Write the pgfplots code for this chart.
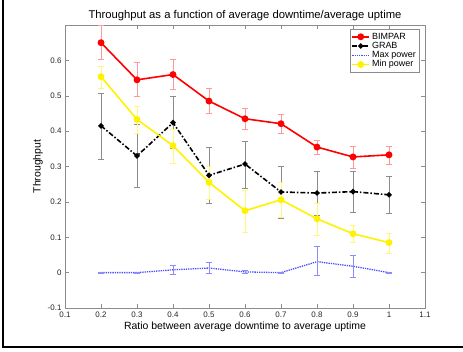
\documentclass[border=0pt]{standalone}
\usepackage{pgfplots}
\pgfplotsset{compat=1.18}
\usepackage{fontspec}
\setmainfont{Liberation Sans}
\definecolor{mlgray}{RGB}{140,140,140}
\begin{document}
\begin{tikzpicture}[x=1bp,y=1bp]
\useasboundingbox (0,0) rectangle (463,-351);
\draw[line width=1.3bp] (3,0) -- (3,-347) -- (463,-347);
\begin{axis}[
  at={(65bp,-308bp)}, anchor=south west,
  scale only axis, width=360bp, height=283bp,
  xmin=0.1, xmax=1.1, ymin=-0.1, ymax=0.7,
  xtick={0.1,0.2,...,1.1}, ytick={-0.1,0,0.1,...,0.7},
  xticklabels={0.1,0.2,0.3,0.4,0.5,0.6,0.7,0.8,0.9,1,1.1},
  yticklabels={-0.1,0,0.1,0.2,0.3,0.4,0.5,0.6,0.7},
  axis line style={mlgray, line width=0.5bp},
  tick style={mlgray, line width=0.5bp},
  tick align=inside, major tick length=4bp,
  ticklabel style={font=\fontsize{8}{9}\selectfont, text=black!85},
  /pgf/number format/assume math mode=true,
  title={Throughput as a function of average downtime/average uptime},
  title style={font=\fontsize{11.3}{13}\selectfont, yshift=-5bp},
  xlabel={Ratio between average downtime to average uptime},
  ylabel={Throughput},
  label style={font=\fontsize{10.5}{12}\selectfont},
  xlabel style={yshift=2bp},
  ylabel style={yshift=-2bp},
  legend style={at={(0.985,0.985)}, anchor=north east, draw=mlgray,
    font=\fontsize{9}{10}\selectfont, row sep=-2.5bp, inner sep=1.5bp,
    cells={anchor=west}},
]
% BIMPAR
\addplot[red, line width=1.6bp, mark=*, mark size=2.6bp,
  error bars/.cd, y dir=both, y explicit,
  error bar style={red!40, line width=0.7bp},
  error mark options={rotate=90, mark size=3bp, red!40, line width=0.7bp}]
 coordinates {
 (0.2,0.650) += (0,0.050) -= (0,0.048)
 (0.3,0.545) += (0,0.050) -= (0,0.048)
 (0.4,0.560) += (0,0.043) -= (0,0.043)
 (0.5,0.485) += (0,0.035) -= (0,0.035)
 (0.6,0.435) += (0,0.029) -= (0,0.030)
 (0.7,0.421) += (0,0.027) -= (0,0.026)
 (0.8,0.355) += (0,0.019) -= (0,0.020)
 (0.9,0.327) += (0,0.030) -= (0,0.032)
 (1.0,0.333) += (0,0.024) -= (0,0.026)
 };
\addlegendentry{BIMPAR}
% GRAB
\addplot[black, line width=1.6bp, dash pattern=on 5bp off 2bp on 1.5bp off 2bp, mark=*, mark size=1.8bp,
  mark options={solid},
  error bars/.cd, y dir=both, y explicit,
  error bar style={mlgray, line width=0.7bp, solid},
  error mark options={rotate=90, mark size=3bp, mlgray, line width=0.7bp, solid}]
 coordinates {
 (0.2,0.415) += (0,0.093) -= (0,0.094)
 (0.3,0.330) += (0,0.090) -= (0,0.088)
 (0.4,0.424) += (0,0.073) -= (0,0.073)
 (0.5,0.275) += (0,0.078) -= (0,0.079)
 (0.6,0.307) += (0,0.065) -= (0,0.070)
 (0.7,0.228) += (0,0.072) -= (0,0.074)
 (0.8,0.225) += (0,0.062) -= (0,0.064)
 (0.9,0.229) += (0,0.058) -= (0,0.058)
 (1.0,0.220) += (0,0.053) -= (0,0.052)
 };
\addlegendentry{GRAB}
% Max power
\addplot[blue!70, line width=1.3bp, densely dotted,
  error bars/.cd, y dir=both, y explicit,
  error bar style={blue!45, line width=0.7bp, solid},
  error mark options={rotate=90, mark size=3bp, blue!45, line width=0.7bp, solid}]
 coordinates {
 (0.2,0.000) += (0,0.001) -= (0,0.001)
 (0.3,0.000) += (0,0.001) -= (0,0.001)
 (0.4,0.008) += (0,0.013) -= (0,0.014)
 (0.5,0.013) += (0,0.016) -= (0,0.015)
 (0.6,0.002) += (0,0.004) -= (0,0.004)
 (0.7,0.000) += (0,0.001) -= (0,0.001)
 (0.8,0.031) += (0,0.043) -= (0,0.040)
 (0.9,0.018) += (0,0.030) -= (0,0.032)
 (1.0,0.000) += (0,0.001) -= (0,0.001)
 };
\addlegendentry{Max power}
% Min power
\addplot[yellow, line width=1.6bp, mark=*, mark size=2.6bp,
  error bars/.cd, y dir=both, y explicit,
  error bar style={yellow!50, line width=0.7bp},
  error mark options={rotate=90, mark size=3bp, yellow!50, line width=0.7bp}]
 coordinates {
 (0.2,0.554) += (0,0.028) -= (0,0.033)
 (0.3,0.433) += (0,0.037) -= (0,0.039)
 (0.4,0.359) += (0,0.046) -= (0,0.050)
 (0.5,0.255) += (0,0.045) -= (0,0.049)
 (0.6,0.175) += (0,0.059) -= (0,0.061)
 (0.7,0.206) += (0,0.050) -= (0,0.051)
 (0.8,0.152) += (0,0.044) -= (0,0.046)
 (0.9,0.110) += (0,0.025) -= (0,0.024)
 (1.0,0.085) += (0,0.027) -= (0,0.030)
 };
\addlegendentry{Min power}
\end{axis}
\end{tikzpicture}
\end{document}
